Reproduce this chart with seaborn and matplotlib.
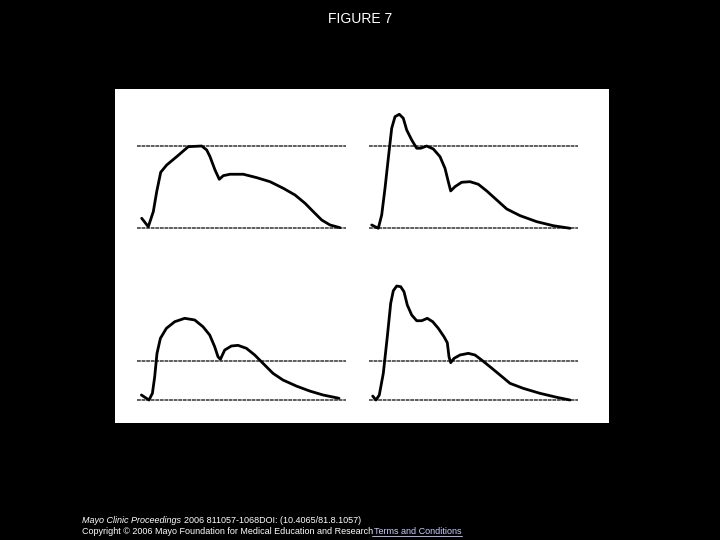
import numpy as np
import pandas as pd
import matplotlib
matplotlib.use("Agg")
import matplotlib.pyplot as plt
import seaborn as sns

sns.set_style("white")
plt.rcParams['font.family'] = ['Liberation Sans', 'DejaVu Sans']

# waveforms: time (px-like units from start of reference line)
# and amplitude (baseline = 0, upper reference line of top panels = 100)
tl_t = [4.7, 11.3, 16.3, 19.7, 23.7, 29.7, 39.7, 51.3, 64.7, 69.7, 73, 78, 82.3, 86.3,
        93, 106.3, 119.7, 133, 146.3, 158, 168, 176.3, 184.7, 193, 203]
tl_a = [12.1, 1.9, 20.1, 44.3, 67.8, 76.6, 86.7, 98.8, 99.6, 94.8, 86.7, 70.6, 59.3, 63.7,
        65.4, 65.4, 61.3, 56.4, 48.4, 40.3, 30.3, 20.1, 10.0, 4.0, 0.7]

tr_t = [2.4, 9.0, 12.4, 15.7, 19.0, 22.4, 25.7, 30, 34, 37.4, 42.4, 47.4, 51.4, 57.4,
        64, 70.7, 75.7, 79, 81.4, 85.7, 92.4, 100.7, 109, 117.4, 127.4, 137.4, 150.7,
        167.4, 184, 200.7]
tr_a = [4.0, 0, 16.1, 48.4, 84.7, 121.1, 135.1, 138, 133.2, 119, 106.9, 96.9, 96.9, 99.6,
        96, 86.7, 72.6, 56.4, 45.2, 50.4, 55.7, 56.4, 53.3, 45.2, 34.3, 23.4, 15.3,
        8.0, 3.1, 0]

bl_t = [4.4, 12, 15.4, 17.7, 20, 23.4, 29.4, 37.7, 47.7, 57.7, 66, 72.7, 77.7, 81, 83.4,
        87.7, 94.4, 101, 109.4, 117.7, 126, 136, 146, 159.4, 172.7, 186, 202]
bl_a = [6.1, 0, 8.1, 28.2, 56.5, 74.7, 86.8, 94.8, 98.9, 96.9, 88.7, 78.7, 64.5, 52.4, 49.3,
        60.5, 65.4, 66.2, 62.6, 54.5, 44.4, 32.3, 24.2, 16.9, 10.9, 6.1, 2.1]

br_t = [3.4, 6.7, 10, 14, 18, 21.4, 24, 27.4, 31.4, 34.7, 38, 42.4, 47.4, 52.4, 58, 63.4,
        69, 74.7, 78, 79.7, 81.4, 84.7, 90.7, 99, 105.7, 112.4, 120.7, 130.7, 140.7,
        154, 170.7, 187.4, 200.7]
br_a = [4.8, 0, 6.1, 32.3, 76.6, 117.1, 132.3, 138, 137.2, 131.1, 115, 102.9, 96, 96, 98.9,
        94.8, 86.8, 76.6, 69.4, 52.4, 45.2, 50.4, 54.5, 56.5, 54.5, 48.4, 40.3, 30.3,
        20.2, 14.1, 8.1, 3.3, 0]

# reference (dotted) levels per panel
ref_levels = [[0, 100], [0, 100], [0, 47.2], [0, 47.2]]
line_len = 209

panels = [(tl_t, tl_a), (tr_t, tr_a), (bl_t, bl_a), (br_t, br_a)]

fig = plt.figure(figsize=(7.2, 5.4), dpi=100, facecolor='black')

# white picture area
bg = fig.add_axes([115 / 720, 1 - 423 / 540, (609 - 115) / 720, (423 - 89) / 540])
bg.set_facecolor('white')
bg.set_xticks([])
bg.set_yticks([])
for s in bg.spines.values():
    s.set_visible(False)

rects = [
    [137 / 720, 1 - 240 / 540, 209 / 720, 140 / 540],
    [369.3 / 720, 1 - 240 / 540, 209 / 720, 140 / 540],
    [137 / 720, 1 - 412 / 540, 209 / 720, 142 / 540],
    [369.3 / 720, 1 - 412 / 540, 209 / 720, 142 / 540],
]
ylims = [(-14.2, 155.3), (-14.2, 155.3), (-14.5, 157.4), (-14.5, 157.4)]

for (t, a), rect, yl, levels in zip(panels, rects, ylims, ref_levels):
    ax = fig.add_axes(rect)
    ax.patch.set_alpha(0)
    for lv in levels:
        ax.axhline(lv, color='#333333', lw=1.1, ls=(0, (2.5, 0.5)), zorder=1)
    df = pd.DataFrame({'t': t, 'a': a})
    sns.lineplot(data=df, x='t', y='a', sort=False, color='black', lw=2.0,
                 ax=ax, zorder=2, solid_joinstyle='round', solid_capstyle='round')
    ax.set_xlim(0, line_len)
    ax.set_ylim(*yl)
    ax.axis('off')

fig.text(0.5, 1 - 19 / 540, "FIGURE 7", color='white', fontsize=10,
         ha='center', va='center')

fs = 6.5
fig.text(82 / 720, 1 - 520.3 / 540, "Mayo Clinic Proceedings", color='white', fontsize=fs,
         style='italic', ha='left', va='center')
fig.text(183.5 / 720, 1 - 520.3 / 540, "2006 811057-1068DOI: (10.4065/81.8.1057)",
         color='white', fontsize=fs, ha='left', va='center')
fig.text(82 / 720, 1 - 532 / 540,
         "Copyright \u00a9 2006 Mayo Foundation for Medical Education and Research",
         color='white', fontsize=fs, ha='left', va='center')
fig.text(374 / 720, 1 - 532 / 540, "Terms and Conditions", color='#ccccff',
         fontsize=fs, ha='left', va='center')
fig.add_artist(plt.Line2D([372 / 720, 462 / 720], [1 - 535.5 / 540, 1 - 535.5 / 540],
                          color='#ccccff', lw=0.6, transform=fig.transFigure))

fig.savefig("out.png", dpi=100, facecolor='black')
